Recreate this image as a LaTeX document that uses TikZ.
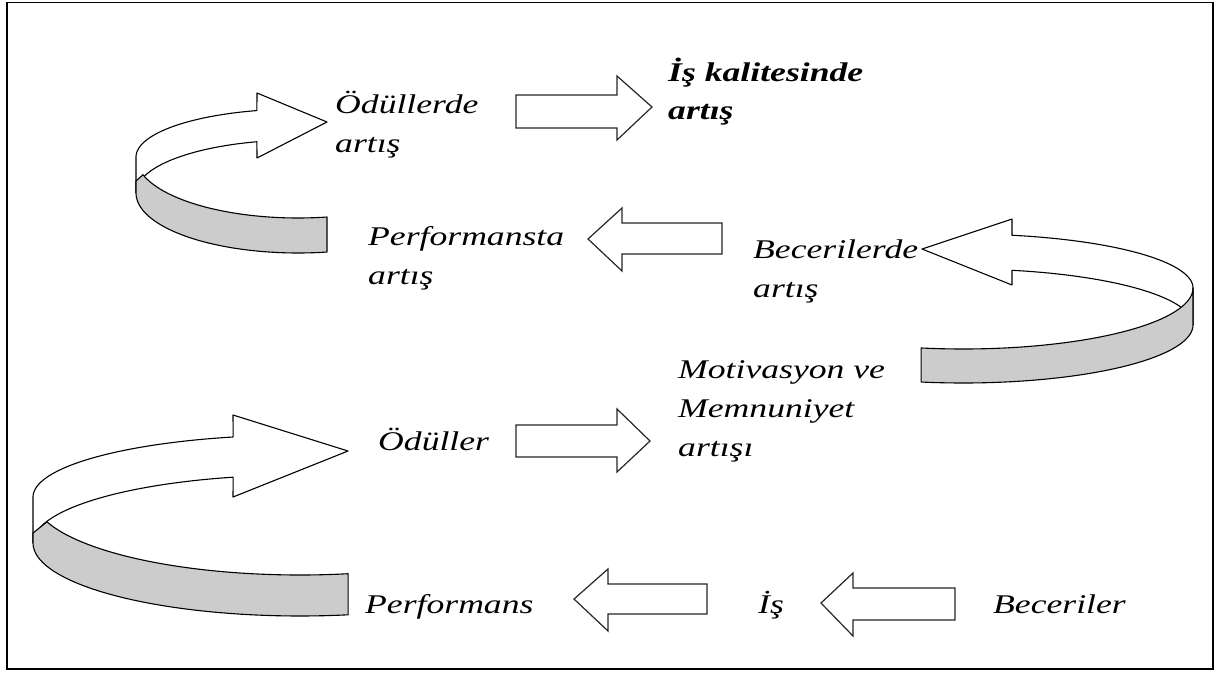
\documentclass[tikz,border=0pt]{standalone}
\usepackage{fontspec}
\setmainfont{Liberation Serif}[FakeStretch=1.32]
\begin{document}
\begin{tikzpicture}[x=1pt,y=-1pt,
  lbl/.style={anchor=base west, inner sep=0pt, align=left,
    font=\fontsize{27}{39}\selectfont\itshape},
  lblbold/.style={lbl, font=\fontsize{27}{38}\selectfont\bfseries\itshape},
  blockarrow/.style={draw=black!85, line width=1.2pt, fill=white, line join=miter},
  band/.style={draw=black, line width=1.1pt, line join=round},
  bandback/.style={band, fill=white},
  bandfront/.style={band, fill=black!20}]

\useasboundingbox (0,0) rectangle (1217,672);
\draw[line width=1.8pt] (7,2.5) rectangle (1213,669);

% ---- curled arrow, lower left ----
\path[bandback]
  plot[domain=180:255.5,samples=40] ({300+267*cos(\x)},{497+62*sin(\x)})
  -- (233,415) -- (348,451) -- (233,497)
  -- plot[domain=255.5:180,samples=40] ({300+267*cos(\x)},{543+68*sin(\x)})
  -- cycle;
\path[bandfront]
  (33,533)
  -- plot[domain=161.4:79.6,samples=40] ({300+267*cos(\x)},{497+78*sin(\x)})
  -- plot[domain=79.6:180,samples=40] ({300+267*cos(\x)},{543+73*sin(\x)})
  -- cycle;

% ---- curled arrow, upper left ----
\path[bandback]
  plot[domain=180:255.3,samples=40] ({298+162*cos(\x)},{157+48*sin(\x)})
  -- (257,93) -- (327,122) -- (257,158)
  -- plot[domain=255.3:180,samples=40] ({298+162*cos(\x)},{193+53*sin(\x)})
  -- cycle;
\path[bandfront]
  (136,181)
  -- plot[domain=163.1:79.7,samples=40] ({298+162*cos(\x)},{157+61*sin(\x)})
  -- plot[domain=79.7:180,samples=40] ({298+162*cos(\x)},{193+60*sin(\x)})
  -- cycle;

% ---- curled arrow, right ----
\path[bandback]
  plot[domain=360:282.3,samples=40] ({963+230*cos(\x)},{288+54*sin(\x)})
  -- (1012,219) -- (922,249) -- (1012,285)
  -- plot[domain=282.3:360,samples=40] ({963+230*cos(\x)},{325+56*sin(\x)})
  -- cycle;
\path[bandfront]
  plot[domain=0:100.5,samples=40] ({963+230*cos(\x)},{288+61*sin(\x)})
  -- plot[domain=100.5:0,samples=40] ({963+230*cos(\x)},{325+58*sin(\x)})
  -- cycle;

% ---- straight block arrows ----
\path[blockarrow] (516,95) -- (617,95) -- (617,76) -- (652,107) -- (617,140) -- (617,128) -- (516,128) -- cycle;
\path[blockarrow] (516,425) -- (617,425) -- (617,409) -- (650,441) -- (617,472) -- (617,457) -- (516,457) -- cycle;
\path[blockarrow] (722,223) -- (622,223) -- (622,208) -- (588,239) -- (622,271) -- (622,254) -- (722,254) -- cycle;
\path[blockarrow] (707,584) -- (608,584) -- (608,569) -- (574,599) -- (608,631) -- (608,614) -- (707,614) -- cycle;
\path[blockarrow] (955,588) -- (853,588) -- (853,573) -- (821,603) -- (853,636) -- (853,620) -- (955,620) -- cycle;

% ---- labels (multi-line labels are placed by their last baseline) ----
\node[lbl] (odullerde) at (335,152) {Ödüllerde\\artış};
\node[lblbold] (kalite) at (668,119) {İş kalitesinde\\artış};
\node[lbl] (performansta) at (368,284) {Performansta\\artış};
\node[lbl] (becerilerde) at (753,297) {Becerilerde\\artış};
\node[lbl] (motivasyon) at (678,456) {Motivasyon ve\\Memnuniyet\\artışı};
\node[lbl] (oduller) at (378,450) {Ödüller};
\node[lbl] (performans) at (365,613) {Performans};
\node[lbl] (is) at (758,613) {İş};
\node[lbl] (beceriler) at (993,613) {Beceriler};
\end{tikzpicture}
\end{document}
